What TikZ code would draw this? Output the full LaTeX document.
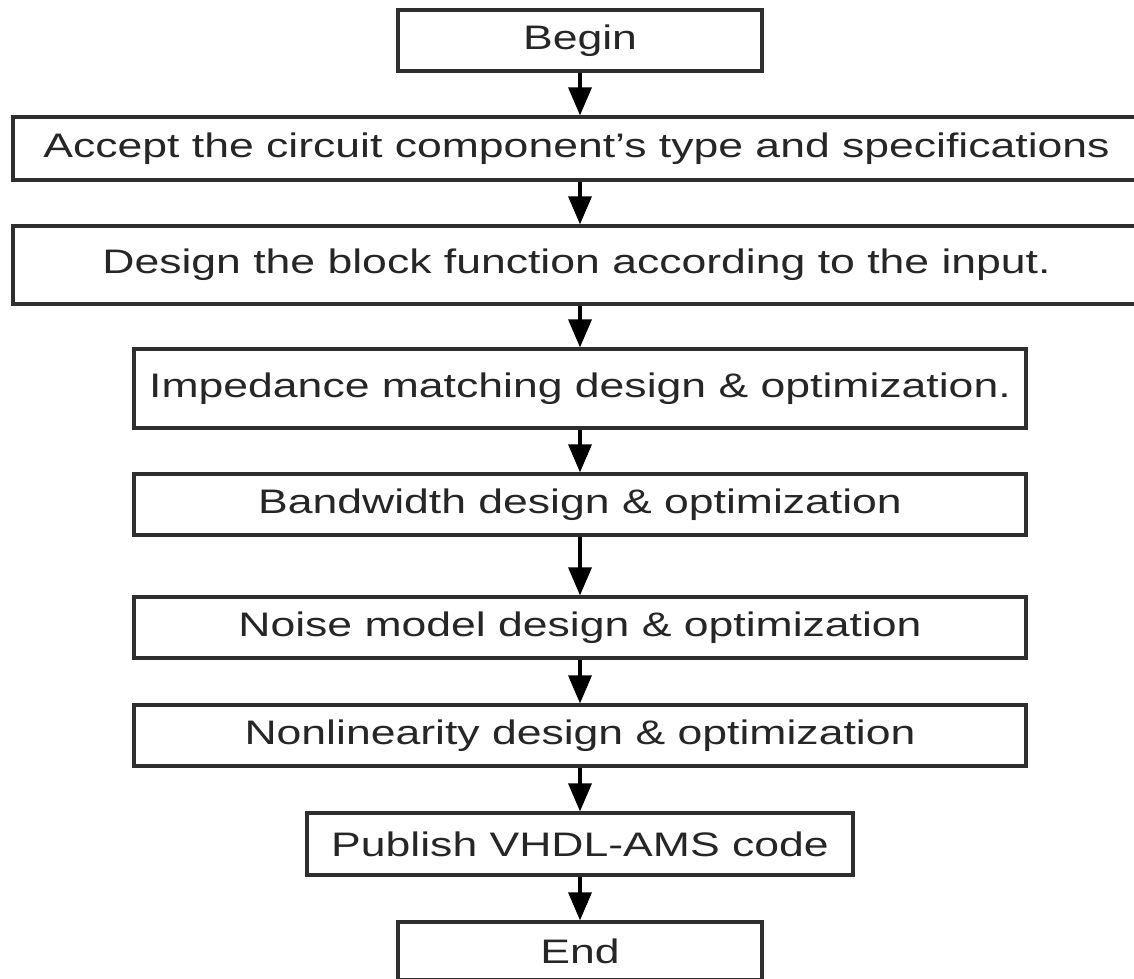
\documentclass[tikz,border=0pt]{standalone}
\usepackage{fontspec}
\setmainfont[FakeStretch=1.31]{Liberation Sans}
\usetikzlibrary{arrows.meta}
\begin{document}
\begin{tikzpicture}[x=1pt,y=-1pt,
  box/.style 2 args={draw=black!82, line width=3.2pt, minimum width=#1, minimum height=#2,
    inner sep=0pt, text=black!85, font=\fontsize{34}{40}\selectfont},
  arr/.style={-{Triangle[width=23pt,length=28pt]}, line width=3.4pt, draw=black}]
\useasboundingbox (0,0) rectangle (1134,978);
\clip (0,0) rectangle (1134,978);
\node[box={364}{61}]  (begin)  at (580,40.5)   {Begin};
\node[box={1127}{63}] (accept) at (576.5,148.5) {Accept the circuit component's type and specifications};
\node[box={1127}{78}] (design) at (576.5,265)   {Design the block function according to the input.};
\node[box={892}{79}]  (imp)    at (580,388.5)   {Impedance matching design \& optimization.};
\node[box={892}{61}]  (band)   at (580,504.5)   {Bandwidth design \& optimization};
\node[box={892}{61}]  (noise)  at (580,627.5)   {Noise model design \& optimization};
\node[box={892}{61}]  (nonlin) at (580,735.5)   {Nonlinearity design \& optimization};
\node[box={546}{62}]  (pub)    at (580,844)     {Publish VHDL-AMS code};
\node[box={364}{58}]  (end)    at (580,951)     {End};
\draw[arr] (begin.south) -- (begin.south |- accept.north);
\draw[arr] (begin.south |- accept.south) -- (begin.south |- design.north);
\draw[arr] (begin.south |- design.south) -- (imp.north);
\draw[arr] (imp.south) -- (band.north);
\draw[arr] (band.south) -- (noise.north);
\draw[arr] (noise.south) -- (nonlin.north);
\draw[arr] (nonlin.south) -- (pub.north);
\draw[arr] (pub.south) -- (end.north);
\end{tikzpicture}
\end{document}
